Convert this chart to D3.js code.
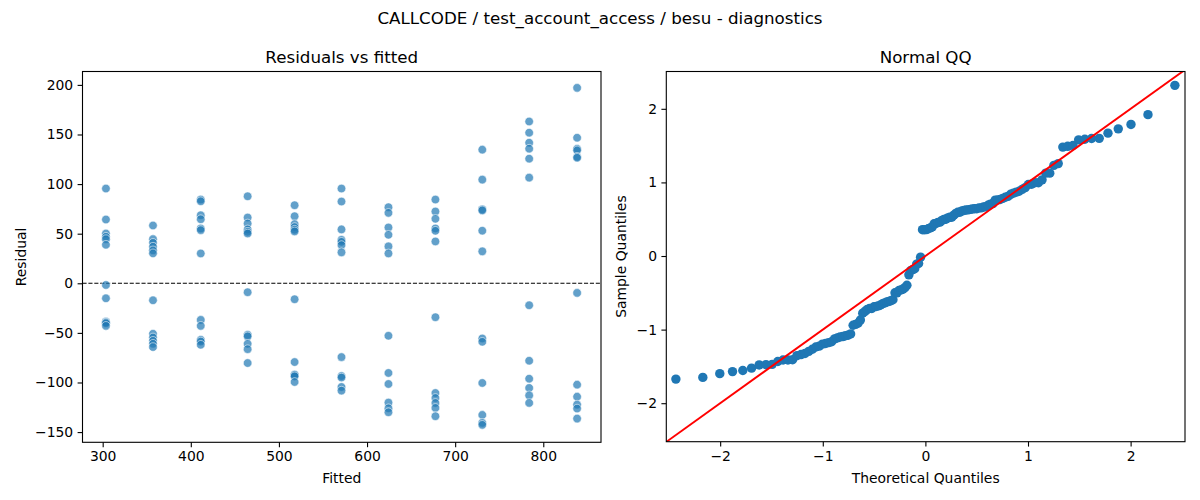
<!DOCTYPE html>
<html><head><meta charset="utf-8">
<script src="https://cdn.jsdelivr.net/npm/d3@7"></script>
<style>
body{margin:0;background:#fff}
svg{display:block}
text{font-family:"DejaVu Sans",sans-serif;fill:#000}
</style>
</head><body>
<svg id="c" width="1200" height="500"></svg>
<script>
// ---------- data ----------
const suptitle = "CALLCODE / test_account_access / besu - diagnostics";
const leftTitle = "Residuals vs fitted";
const rightTitle = "Normal QQ";
const fittedLevels = [303.7, 357.1, 411.3, 464.5, 517.8, 571.0, 624.3, 677.6, 730.8, 784.0, 838.4];
const residualsByLevel = [
  [95.5, 64.3, 50.2, 46.9, 44.5, 38.8, -1.7, -15.1, -38.6, -39.5, -40.2, -42.9],
  [58.3, 44.5, 40.8, 36.9, 33.2, 30.2, -17.1, -50.9, -54.6, -58.0, -61.0, -64.3],
  [84.4, 82.7, 68.6, 64.6, 55.3, 53.6, 30.1, -36.9, -42.9, -57.0, -58.7, -62.0],
  [87.7, 66.3, 60.3, 54.3, 51.9, 50.2, -9.0, -52.0, -53.5, -61.0, -66.4, -80.4],
  [78.7, 67.6, 59.6, 56.7, 54.0, 52.3, -16.1, -79.4, -92.0, -92.5, -93.8, -99.5],
  [95.5, 82.4, 54.3, 43.8, 41.8, 38.5, 31.2, -74.4, -93.5, -95.0, -104.5, -108.2],
  [76.7, 71.0, 56.3, 48.9, 37.2, 30.1, -52.9, -90.4, -101.5, -120.3, -126.0, -130.0],
  [84.4, 72.4, 65.0, 55.3, 52.9, 42.2, -34.2, -110.6, -115.6, -120.6, -125.6, -134.0],
  [134.7, 104.5, 74.5, 73.5, 53.0, 32.2, -55.6, -59.0, -100.5, -132.7, -140.7, -142.7],
  [163.1, 151.8, 141.7, 135.7, 125.6, 106.5, -22.1, -78.1, -96.2, -105.5, -113.0, -120.6],
  [197.0, 146.7, 135.5, 134.0, 127.5, 126.5, -9.7, -102.2, -114.3, -122.3, -126.3, -136.4]
];
const fittedTicks = [300, 400, 500, 600, 700, 800];
const residualTicks = [-150, -100, -50, 0, 50, 100, 150, 200];
const qqTicks = [-2, -1, 0, 1, 2];

// ---------- derived ----------
const points = [];
fittedLevels.forEach((f, i) => residualsByLevel[i].forEach(r => points.push({f, r})));

// inverse normal CDF (Acklam) for theoretical quantiles
function invNorm(p) {
  const a = [-3.969683028665376e+01, 2.209460984245205e+02, -2.759285104469687e+02, 1.383577518672690e+02, -3.066479806614716e+01, 2.506628277459239e+00];
  const b = [-5.447609879822406e+01, 1.615858368580409e+02, -1.556989798598866e+02, 6.680131188771972e+01, -1.328068155288572e+01];
  const c = [-7.784894002430293e-03, -3.223964580411365e-01, -2.400758277161838e+00, -2.549732539343734e+00, 4.374664141464968e+00, 2.938163982698783e+00];
  const d = [7.784695709041462e-03, 3.224671290700398e-01, 2.445134137142996e+00, 3.754408661907416e+00];
  const pl = 0.02425, ph = 1 - pl;
  let q, r;
  if (p < pl) { q = Math.sqrt(-2 * Math.log(p));
    return (((((c[0]*q+c[1])*q+c[2])*q+c[3])*q+c[4])*q+c[5]) / ((((d[0]*q+d[1])*q+d[2])*q+d[3])*q+1); }
  if (p > ph) { q = Math.sqrt(-2 * Math.log(1 - p));
    return -(((((c[0]*q+c[1])*q+c[2])*q+c[3])*q+c[4])*q+c[5]) / ((((d[0]*q+d[1])*q+d[2])*q+d[3])*q+1); }
  q = p - 0.5; r = q * q;
  return (((((a[0]*r+a[1])*r+a[2])*r+a[3])*r+a[4])*r+a[5])*q / (((((b[0]*r+b[1])*r+b[2])*r+b[3])*r+b[4])*r+1);
}
const allRes = points.map(p => p.r).sort((x, y) => x - y);
const n = allRes.length;
const mu = d3.mean(allRes);
const sd = Math.sqrt(d3.mean(allRes, v => (v - mu) * (v - mu)));
const qq = allRes.map((v, i) => ({t: invNorm((i + 1) / (n + 1)), s: (v - mu) / sd}));

// ---------- layout ----------
const svg = d3.select("#c");
const FS = 13.9;
const L = {x0: 82.5, x1: 601, y0: 71.5, y1: 442.3};
const R = {x0: 666.3, x1: 1185, y0: 71.5, y1: 441.7};

svg.append("text").attr("x", 600).attr("y", 24).attr("text-anchor", "middle")
  .style("font-size", "16.7px").text(suptitle);

function frame(g, B, xs, ys, xt, yt, xlabel, ylabel, ttl, ylabX) {
  const ax = svg.append("g").attr("transform", `translate(0,${B.y1})`)
    .call(d3.axisBottom(xs).tickValues(xt).tickSize(4.9).tickPadding(4.4).tickFormat(d3.format("")));
  const ay = svg.append("g").attr("transform", `translate(${B.x0},0)`)
    .call(d3.axisLeft(ys).tickValues(yt).tickSize(4.9).tickPadding(4.4).tickFormat(d3.format("")));
  [ax, ay].forEach(a => {
    a.select(".domain").remove();
    a.selectAll("line").attr("stroke", "#000").attr("stroke-width", 1.1);
    a.selectAll("text").style("font-size", FS + "px").attr("fill", "#000")
      .style("font-family", '"DejaVu Sans",sans-serif');
  });
  svg.append("rect").attr("x", B.x0).attr("y", B.y0).attr("width", B.x1 - B.x0).attr("height", B.y1 - B.y0)
    .attr("fill", "none").attr("stroke", "#000").attr("stroke-width", 1.1);
  svg.append("text").attr("x", (B.x0 + B.x1) / 2).attr("y", 483).attr("text-anchor", "middle")
    .style("font-size", FS + "px").text(xlabel);
  svg.append("text").attr("transform", `translate(${ylabX},${(B.y0 + B.y1) / 2}) rotate(-90)`)
    .attr("text-anchor", "middle").style("font-size", FS + "px").text(ylabel);
  svg.append("text").attr("x", (B.x0 + B.x1) / 2).attr("y", 63).attr("text-anchor", "middle")
    .style("font-size", "16.7px").text(ttl);
}

// ---------- left: residuals vs fitted ----------
const xL = d3.scaleLinear().domain([277.1, 865.5]).range([L.x0, L.x1]);
const yL = d3.scaleLinear().domain([-160.3, 213.5]).range([L.y1, L.y0]);
svg.append("clipPath").attr("id", "clipL").append("rect")
  .attr("x", L.x0).attr("y", L.y0).attr("width", L.x1 - L.x0).attr("height", L.y1 - L.y0);
const gl = svg.append("g").attr("clip-path", "url(#clipL)");
gl.append("line").attr("x1", L.x0).attr("x2", L.x1).attr("y1", yL(0)).attr("y2", yL(0))
  .attr("stroke", "#000").attr("stroke-width", 1.1).attr("stroke-dasharray", "4.1,1.8");
gl.selectAll("circle").data(points).join("circle")
  .attr("cx", d => xL(d.f)).attr("cy", d => yL(d.r)).attr("r", 4.3)
  .attr("fill", "#1f77b4").attr("fill-opacity", 0.7)
  .attr("stroke", "#fff").attr("stroke-opacity", 0.7).attr("stroke-width", 0.8);
frame(gl, L, xL, yL, fittedTicks, residualTicks, "Fitted", "Residual", leftTitle, 26);

// ---------- right: normal QQ ----------
const xR = d3.scaleLinear().domain([-2.525, 2.53]).range([R.x0, R.x1]);
const yR = d3.scaleLinear().domain([-2.523, 2.507]).range([R.y1, R.y0]);
svg.append("clipPath").attr("id", "clipR").append("rect")
  .attr("x", R.x0).attr("y", R.y0).attr("width", R.x1 - R.x0).attr("height", R.y1 - R.y0);
const gr = svg.append("g").attr("clip-path", "url(#clipR)");
gr.selectAll("circle").data(qq).join("circle")
  .attr("cx", d => xR(d.t)).attr("cy", d => yR(d.s)).attr("r", 4.7)
  .attr("fill", "#1f77b4");
const lim = [-3, 3];
gr.append("line").attr("x1", xR(lim[0])).attr("y1", yR(lim[0])).attr("x2", xR(lim[1])).attr("y2", yR(lim[1]))
  .attr("stroke", "#ff0000").attr("stroke-width", 1.9);
frame(gr, R, xR, yR, qqTicks, qqTicks, "Theoretical Quantiles", "Sample Quantiles", rightTitle, 626);
</script>
</body></html>
